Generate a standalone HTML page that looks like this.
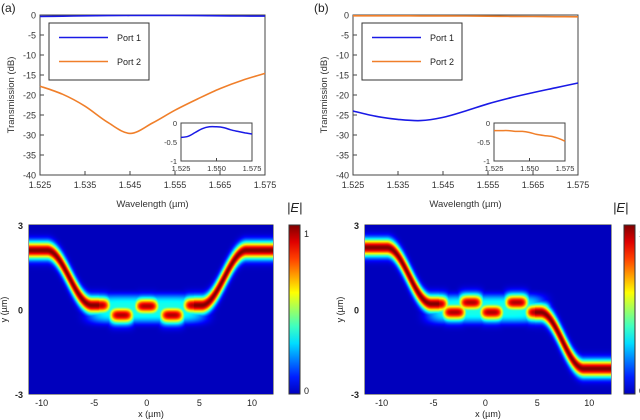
<!DOCTYPE html>
<html><head><meta charset="utf-8">
<style>
body{margin:0;background:#fff;width:640px;height:420px;overflow:hidden;font-family:"Liberation Sans",sans-serif;}
svg text{font-family:"Liberation Sans",sans-serif;}
canvas{position:absolute;}
</style></head>
<body>
<svg id="s" width="640" height="420" style="position:absolute;left:0;top:0"></svg>
<canvas id="hmA" width="244" height="169" style="left:29px;top:225px"></canvas>
<canvas id="hmB" width="246" height="169" style="left:365px;top:225px"></canvas>
<script>
// ---- line chart data ----
const wl = [1.525,1.530,1.535,1.540,1.545,1.550,1.555,1.560,1.565,1.570,1.575];
const aPort1 = [-0.35,-0.3,-0.2,-0.15,-0.12,-0.1,-0.12,-0.15,-0.2,-0.25,-0.28];
const aPort2 = [-17.8,-19.8,-22.8,-26.8,-29.6,-27,-23.8,-21,-18.4,-16.3,-14.6];
const bPort1 = [-24,-25.3,-26.1,-26.4,-25.6,-24,-22.2,-20.7,-19.4,-18.2,-17];
const bPort2 = [-0.2,-0.2,-0.2,-0.22,-0.22,-0.25,-0.3,-0.35,-0.38,-0.42,-0.46];
const insetA = [-0.38,-0.35,-0.25,-0.15,-0.1,-0.1,-0.12,-0.18,-0.22,-0.26,-0.29];
const insetB = [-0.2,-0.2,-0.2,-0.22,-0.22,-0.25,-0.3,-0.33,-0.35,-0.4,-0.48];
const yTicks = [0,-5,-10,-15,-20,-25,-30,-35,-40];
const xTicks = [1.525,1.535,1.545,1.555,1.565,1.575];
const insetXTicks = [1.525,1.550,1.575];
const insetYTicks = [0,-0.5,-1];
const hmXTicks = [-10,-5,0,5,10];
// heatmap guide control points (x µm, y µm)
const guideXa = [-12,-9.5,-5.2,-4.5];
const guideYa = [2.1,2.1,0.15,0.15];
const guideXaR = [4.5,5.2,9.5,12.5];
const guideYaR = [0.15,0.15,2.1,2.1];
const blobsA = [[-4.6,0.15],[-2.4,-0.2],[0,0.12],[2.4,-0.2],[4.6,0.15]];
const guideXb = [-12,-9.5,-5.2,-4.5];
const guideYb = [2.2,2.2,0.2,0.2];
const guideXbR = [4.8,5.3,9.5,12.5];
const guideYbR = [-0.1,-0.1,-2.1,-2.1];
const blobsB = [[-4.7,0.2],[-3,-0.1],[-1.4,0.25],[0.6,-0.1],[3,0.25],[5,-0.1]];

const NS="http://www.w3.org/2000/svg";
const svg=document.getElementById('s');
function el(t,a,txt,parent){const e=document.createElementNS(NS,t);for(const k in a)e.setAttribute(k,a[k]);if(txt!==undefined)e.textContent=txt;(parent||svg).appendChild(e);return e;}
function smooth(pts){let d='M'+pts[0][0].toFixed(1)+','+pts[0][1].toFixed(1);
  for(let i=0;i<pts.length-1;i++){const p0=pts[Math.max(0,i-1)],p1=pts[i],p2=pts[i+1],p3=pts[Math.min(pts.length-1,i+2)];
    const c1=[p1[0]+(p2[0]-p0[0])/6,p1[1]+(p2[1]-p0[1])/6],c2=[p2[0]-(p3[0]-p1[0])/6,p2[1]-(p3[1]-p1[1])/6];
    d+=`C${c1[0].toFixed(1)},${c1[1].toFixed(1)} ${c2[0].toFixed(1)},${c2[1].toFixed(1)} ${p2[0].toFixed(1)},${p2[1].toFixed(1)}`;}
  return d;}

function lineChart(ox,name,s1,s2,inset,insetColor,label){
  const x0=ox+40,x1=ox+265,y0=15,y1=175;
  const X=v=>x0+(v-1.525)/0.05*(x1-x0);
  const Y=v=>y0+(0-v)/40*(y1-y0);
  const g=el('g',{});
  
  
  const t=el('text',{x:ox+1,y:12,'font-size':12,fill:'#222'},label,g);
  
  el('rect',{x:x0,y:y0,width:x1-x0,height:y1-y0,fill:'none',stroke:'#444','stroke-width':1},g);
  yTicks.forEach(v=>{el('line',{x1:x0,x2:x0+4,y1:Y(v),y2:Y(v),stroke:'#444'},g);
    const tt=el('text',{x:x0-4,y:Y(v)+3.5,'font-size':9,'text-anchor':'end',fill:'#333'},String(v),g);
    });
  xTicks.forEach(v=>{el('line',{x1:X(v),x2:X(v),y1:y1,y2:y1-4,stroke:'#444'},g);
    const tt=el('text',{x:X(v),y:y1+13,'font-size':9,'text-anchor':'middle',fill:'#333'},v.toFixed(3),g);
    });
  const xt=el('text',{x:(x0+x1)/2,y:207,'font-size':9.5,'text-anchor':'middle',fill:'#333'},'Wavelength (µm)',g);
  
  const yt=el('text',{x:0,y:0,'font-size':9.5,'text-anchor':'middle',fill:'#333',transform:`translate(${ox+14},${(y0+y1)/2}) rotate(-90)`},'Transmission (dB)',g);
  
  const pth=(arr,col,nm)=>{const p=el('path',{d:smooth(arr.map((v,i)=>[X(wl[i]),Y(v)])),fill:'none',stroke:col,'stroke-width':1.6},g);
    };
  pth(s2,'#f07f2a','series-port-2');
  pth(s1,'#1a1ae6','series-port-1');
  const lg=el('g',{},undefined,g);
  el('rect',{x:ox+49,y:23,width:100,height:57,fill:'#fff',stroke:'#333'},undefined,lg);
  el('line',{x1:ox+59,x2:ox+108,y1:37.5,y2:37.5,stroke:'#1a1ae6','stroke-width':1.6},undefined,lg);
  el('text',{x:ox+117,y:41,'font-size':9,fill:'#222'},'Port 1',lg);
  el('line',{x1:ox+59,x2:ox+108,y1:61.5,y2:61.5,stroke:'#f07f2a','stroke-width':1.6},undefined,lg);
  el('text',{x:ox+117,y:65,'font-size':9,fill:'#222'},'Port 2',lg);
  const ix0=ox+181,ix1=ox+252,iy0=123,iy1=161;
  const IX=v=>ix0+(v-1.525)/0.05*(ix1-ix0), IY=v=>iy0+(0-v)/1*(iy1-iy0);
  const ig=el('g',{},undefined,g);
  el('rect',{x:ix0,y:iy0,width:ix1-ix0,height:iy1-iy0,fill:'#fff',stroke:'#444'},undefined,ig);
  insetYTicks.forEach(v=>el('text',{x:ix0-4,y:IY(v)+3,'font-size':7.5,'text-anchor':'end',fill:'#333'},String(v),ig));
  insetXTicks.forEach(v=>{el('line',{x1:IX(v),x2:IX(v),y1:iy1,y2:iy1-3,stroke:'#444'},undefined,ig);el('text',{x:IX(v),y:iy1+10,'font-size':7.5,'text-anchor':'middle',fill:'#333'},v.toFixed(3),ig);});
  el('path',{d:smooth(inset.map((v,i)=>[IX(wl[i]),IY(v)])),fill:'none',stroke:insetColor,'stroke-width':1.5},undefined,ig);
}
lineChart(0,'chart-a',aPort1,aPort2,insetA,'#1a1ae6','(a)');
lineChart(313,'chart-b',bPort1,bPort2,insetB,'#f07f2a','(b)');

function jet(v){v=Math.max(0,Math.min(1,v));
  const r=Math.min(1,Math.max(0,1.5-Math.abs(4*v-3))),g=Math.min(1,Math.max(0,1.5-Math.abs(4*v-2))),b=Math.min(1,Math.max(0,1.5-Math.abs(4*v-1)));
  return [r*255,g*255,b*255];}
function cosInterp(xs,ys,x){
  if(x<=xs[0])return ys[0];
  for(let i=0;i<xs.length-1;i++){if(x<=xs[i+1]){const t=(x-xs[i])/(xs[i+1]-xs[i]);const m=(1-Math.cos(Math.PI*t))/2;return ys[i]+(ys[i+1]-ys[i])*m;}}
  return ys[ys.length-1];}
function heat(id,w,h,xmin,xmax,gx,gy,gxr,gyr,blobs){
  const c=document.getElementById(id),ctx=c.getContext('2d');const img=ctx.createImageData(w,h);
  const sig=0.21;
  for(let py=0;py<h;py++)for(let px=0;px<w;px++){
    const x=xmin+(px+0.5)/w*(xmax-xmin), y=3-(py+0.5)/h*6;
    let v=0;
    if(x<gx[gx.length-1]){const yc=cosInterp(gx,gy,x);const sl=(cosInterp(gx,gy,x+0.05)-cosInterp(gx,gy,x-0.05))/0.1;const d=(y-yc)/Math.sqrt(1+sl*sl);v=Math.max(v,Math.exp(-d*d/(2*sig*sig)));}
    if(x>gxr[0]){const yc=cosInterp(gxr,gyr,x);const sl=(cosInterp(gxr,gyr,x+0.05)-cosInterp(gxr,gyr,x-0.05))/0.1;const d=(y-yc)/Math.sqrt(1+sl*sl);v=Math.max(v,Math.exp(-d*d/(2*sig*sig)));}
    blobs.forEach(b=>{const dx=(x-b[0])/1.0,dy=(y-b[1])/0.21;v=Math.max(v,0.95*Math.exp(-(dx*dx*dx*dx)/2-dy*dy/2));});
    const hx=Math.abs(x)/5.6, hy=(y-0.02)/0.5;
    v=Math.max(v,0.36*Math.exp(-Math.pow(hx,8)-Math.pow(Math.abs(hy),4)));
    const k=(py*w+px)*4;const cc=jet(0.06+0.94*v);
    img.data[k]=cc[0];img.data[k+1]=cc[1];img.data[k+2]=cc[2];img.data[k+3]=255;}
  ctx.putImageData(img,0,0);}
heat('hmA',244,169,-11.2,12,guideXa,guideYa,guideXaR,guideYaR,blobsA);
heat('hmB',246,169,-11.6,12.1,guideXb,guideYb,guideXbR,guideYbR,blobsB);

function hmAxes(ox,x0,x1,xmin,xmax,cbx,label,name,ex){
  const g=el('g',{});
  const y0=225,y1=394;const X=v=>x0+(v-xmin)/(xmax-xmin)*(x1-x0);
  el('rect',{x:x0,y:y0,width:x1-x0,height:y1-y0,fill:'none',stroke:'#333'},undefined,g);
  hmXTicks.forEach(v=>{el('line',{x1:X(v),x2:X(v),y1:y1,y2:y1-3,stroke:'#333'},undefined,g);el('text',{x:X(v),y:y1+12,'font-size':9,'text-anchor':'middle',fill:'#222'},String(v),g);});
  [[3,y0],[0,(y0+y1)/2],[-3,y1]].forEach(([v,yy])=>{el('text',{x:x0-6,y:yy+4,'font-size':9,'text-anchor':'end',fill:'#222','font-weight':'bold'},String(v),g);});
  el('text',{x:(x0+x1)/2,y:417,'font-size':9,'text-anchor':'middle',fill:'#222'},'x (µm)',g);
  el('text',{x:0,y:0,'font-size':9,'text-anchor':'middle',fill:'#222',transform:`translate(${x0-22},${(y0+y1)/2}) rotate(-90)`},'y (µm)',g);
  const lb=el('text',{x:x0+12,y:y1-10,'font-size':10,fill:'#ddd'},'',g);
  lb.innerHTML=label+'-Sb<tspan font-size="7" dy="3">2</tspan><tspan dy="-3">Se</tspan><tspan font-size="7" dy="3">3</tspan>';
  
  const gid='cg'+name;const defs=el('defs',{},undefined,g);const lg=el('linearGradient',{id:gid,x1:0,y1:1,x2:0,y2:0},undefined,defs);
  for(let i=0;i<=10;i++){const c=jet(0.06+0.94*i/10);el('stop',{offset:i/10,'stop-color':`rgb(${c.map(Math.round).join(',')})`},undefined,lg);}
  const cb=el('rect',{x:cbx,y:y0,width:11,height:y1-y0,fill:`url(#${gid})`,stroke:'#333'},undefined,g);
  
  el('text',{x:cbx+15,y:y0+12,'font-size':9,fill:'#222'},'1',g);
  el('text',{x:cbx+15,y:y1,'font-size':9,fill:'#222'},'0',g);
  el('text',{x:ex,y:212,'font-size':13,'font-style':'italic','font-family':'Liberation Serif',fill:'#222'},'|E|',g);
}
hmAxes(0,29,273,-11.2,12,289,'a','heatmap-a-axes',287);
hmAxes(313,365,611,-11.6,12.1,624,'c','heatmap-b-axes',613);
</script>
</body></html>
